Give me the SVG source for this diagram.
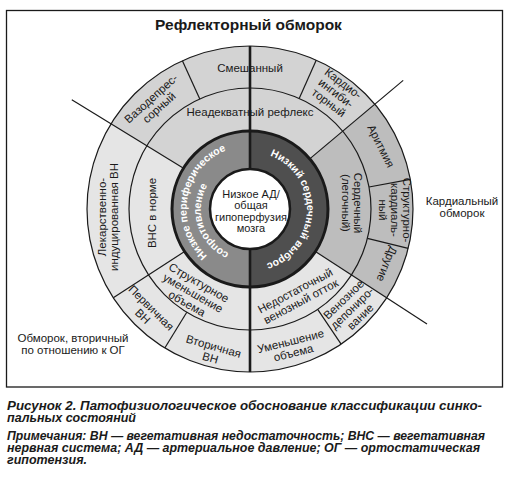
<svg xmlns="http://www.w3.org/2000/svg" width="510" height="480" viewBox="0 0 510 480">
<style>
text{font-family:"Liberation Sans",Arial,Helvetica,sans-serif;fill:#1a1a1a}
.t{font-size:11.5px;text-anchor:middle}
.c{font-size:11px;text-anchor:middle}
.title{font-size:15.5px;font-weight:bold;text-anchor:middle}
.ring{font-size:10.5px;font-weight:bold;fill:#fff;text-anchor:middle}
.cap{font-size:12.5px;font-weight:bold;font-style:italic}
.ln{stroke:#1a1a1a;stroke-width:1.2;fill:none}
.thick{stroke:#1a1a1a;stroke-width:2.6;fill:none}
</style>
<defs>
<path id="pLeftOuter" d="M233.7,269.9 A63,63 0 0 1 255.5,146.2"/>
<path id="pLeftInner" d="M260.5,256.0 A48,48 0 0 1 231.2,164.8"/>
<path id="pRight" d="M256.9,152.4 A57,57 0 0 1 253.0,265.9"/>
</defs>
<rect x="6.5" y="10.5" width="496" height="376.5" fill="#fff" stroke="#1a1a1a" stroke-width="1.3"/>
<text class="title" x="248.5" y="30">Рефлекторный обморок</text>

<g id="sectors">
<circle cx="250" cy="209" r="163" fill="#e5e5e5"/>
<path id="sector-reflex" d="M250,209 L111.0,123.8 A163,163 0 0 1 374.9,104.2 Z" fill="#d3d3d3"/>
<path id="sector-cardiac" d="M250,209 L374.9,104.2 A163,163 0 0 1 386.7,297.8 Z" fill="#bdbdbd"/>
<circle class="ln" cx="250" cy="209" r="163"/>
<circle class="ln" cx="250" cy="209" r="121"/>
</g>

<g id="connectors">
<line class="ln" x1="183.5" y1="168.2" x2="71.8" y2="99.8"/>
<line class="ln" x1="309.7" y1="158.9" x2="403.2" y2="80.4"/>
<line class="ln" x1="315.4" y1="251.5" x2="427.0" y2="323.9"/>
<line class="ln" x1="184.6" y1="251.5" x2="113.3" y2="297.8"/>
<line class="ln" x1="199.8" y1="98.9" x2="182.4" y2="60.7"/>
<line class="ln" x1="299.2" y1="98.5" x2="316.3" y2="60.1"/>
<line class="ln" x1="369.0" y1="187.0" x2="410.3" y2="179.3"/>
<line class="ln" x1="367.4" y1="238.3" x2="408.2" y2="248.4"/>
<line class="ln" x1="317.7" y1="309.3" x2="341.1" y2="344.1"/>
<line class="ln" x1="186.8" y1="312.2" x2="164.8" y2="348.0"/>
<line class="thick" x1="250" y1="46" x2="250" y2="131"/>
<line class="thick" x1="250" y1="287" x2="250" y2="372"/>
</g>

<g id="core">
<path d="M250,131 A78,78 0 0 0 250,287 Z" fill="#8a8a8a"/>
<path d="M250,131 A78,78 0 0 1 250,287 Z" fill="#4f4f4f"/>
<circle cx="250" cy="209" r="78" fill="none" stroke="#1a1a1a" stroke-width="3"/>
<line class="thick" x1="250" y1="131" x2="250" y2="287"/>
<text class="ring"><textPath href="#pLeftOuter" startOffset="50%">Низкое периферическое</textPath></text>
<text class="ring"><textPath href="#pLeftInner" startOffset="50%">сопротивление</textPath></text>
<text class="ring"><textPath href="#pRight" startOffset="50%">Низкий сердечный выброс</textPath></text>
</g>

<g id="center">
<circle cx="250" cy="209" r="40" fill="#fff" stroke="#1a1a1a" stroke-width="2.5"/>
<text class="c" transform="translate(251,211)"><tspan x="0" y="-13.5">Низкое АД/</tspan><tspan x="0" y="-2">общая</tspan><tspan x="0" y="9.5">гипоперфузия</tspan><tspan x="0" y="21">мозга</tspan></text>
</g>

<g id="smeshannyi"><text class="t" transform="translate(250,67.5)"><tspan x="0" y="4">Смешанный</tspan></text></g>
<g id="vazodepressornyi"><text class="t" transform="translate(155,103) rotate(-42)"><tspan x="0" y="-2">Вазодепрес-</tspan><tspan x="0" y="10">сорный</tspan></text></g>
<g id="kardioingibitornyi"><text class="t" transform="translate(336,93) rotate(37)"><tspan x="0" y="-8">Кардио-</tspan><tspan x="0" y="4">ингиби-</tspan><tspan x="0" y="16">торный</tspan></text></g>
<g id="neadekvatnyi"><text class="t" transform="translate(250,112)"><tspan x="0" y="4">Неадекватный рефлекс</tspan></text></g>
<g id="aritmiya"><text class="t" transform="translate(381,146) rotate(63)"><tspan x="0" y="4">Аритмия</tspan></text></g>
<g id="strukturno-kardialnyi"><text class="t" transform="translate(395,210) rotate(90)"><tspan x="0" y="-8">Структурно-</tspan><tspan x="0" y="4">кардиаль-</tspan><tspan x="0" y="16">ный</tspan></text></g>
<g id="drugie"><text class="t" transform="translate(387,264) rotate(112)"><tspan x="0" y="4">Другие</tspan></text></g>
<g id="serdechnyi"><text class="t" transform="translate(352,203) rotate(90)"><tspan x="0" y="-2">Сердечный</tspan><tspan x="0" y="10">(легочный)</tspan></text></g>
<g id="venoznoe"><text class="t" transform="translate(352,308) rotate(-44)"><tspan x="0" y="-8">Венозное</tspan><tspan x="0" y="4">депониро-</tspan><tspan x="0" y="16">вание</tspan></text></g>
<g id="umenshenie"><text class="t" transform="translate(292,347) rotate(-14)"><tspan x="0" y="-2">Уменьшение</tspan><tspan x="0" y="10">объема</tspan></text></g>
<g id="nedostatochnyi"><text class="t" transform="translate(298,296) rotate(-28)"><tspan x="0" y="-2">Недостаточный</tspan><tspan x="0" y="10">венозный отток</tspan></text></g>
<g id="vtorichnaya"><text class="t" transform="translate(212,352) rotate(16)"><tspan x="0" y="-2">Вторичная</tspan><tspan x="0" y="10">ВН</tspan></text></g>
<g id="pervichnaya"><text class="t" transform="translate(147,312) rotate(45)"><tspan x="0" y="-2">Первичная</tspan><tspan x="0" y="10">ВН</tspan></text></g>
<g id="strukturnoe"><text class="t" transform="translate(193,293) rotate(30)"><tspan x="0" y="-8">Структурное</tspan><tspan x="0" y="4">уменьшение</tspan><tspan x="0" y="16">объема</tspan></text></g>
<g id="lekarstvenno"><text class="t" transform="translate(108,217) rotate(-90)"><tspan x="0" y="-2">Лекарственно-</tspan><tspan x="0" y="10">индуцированная ВН</tspan></text></g>
<g id="vns-v-norme"><text class="t" transform="translate(152,213) rotate(-90)"><tspan x="0" y="4">ВНС в норме</tspan></text></g>

<g id="kardialnyi-obmorok"><text class="t" transform="translate(462,207)"><tspan x="0" y="-2">Кардиальный</tspan><tspan x="0" y="10">обморок</tspan></text></g>
<g id="obmorok-og"><text class="t" transform="translate(73,344)"><tspan x="0" y="-2">Обморок, вторичный</tspan><tspan x="0" y="10">по отношению к ОГ</tspan></text></g>

<g id="caption">
<text class="cap" x="7" y="409.5" textLength="475" lengthAdjust="spacingAndGlyphs">Рисунок 2. Патофизиологическое обоснование классификации синко-</text>
<text class="cap" x="7" y="421.5" textLength="129" lengthAdjust="spacingAndGlyphs">пальных состояний</text>
<text class="cap" x="7" y="439.5" textLength="478" lengthAdjust="spacingAndGlyphs">Примечания: ВН — вегетативная недостаточность; ВНС — вегетативная</text>
<text class="cap" x="7" y="451.5" textLength="473" lengthAdjust="spacingAndGlyphs">нервная система; АД — артериальное давление; ОГ — ортостатическая</text>
<text class="cap" x="7" y="463.5" textLength="80" lengthAdjust="spacingAndGlyphs">гипотензия.</text>
</g>
</svg>
